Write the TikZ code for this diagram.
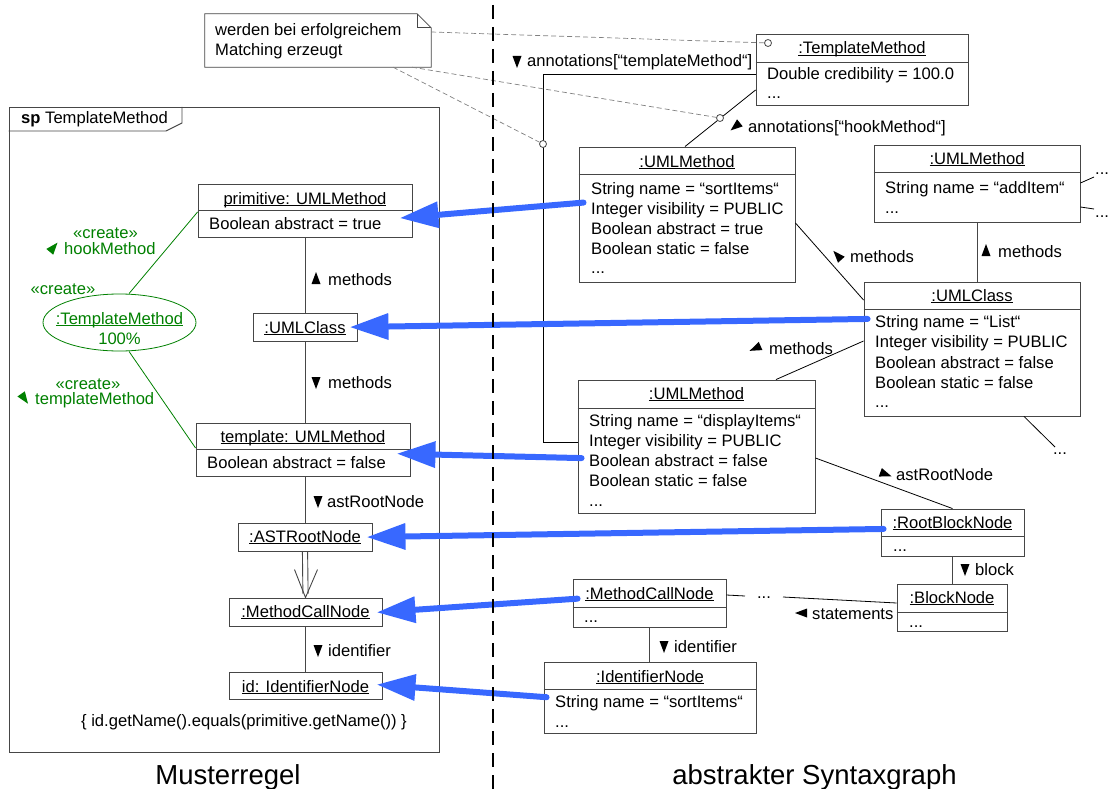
\documentclass[tikz,border=0pt]{standalone}
\usepackage{fontspec}
\setmainfont{Liberation Sans}
\usetikzlibrary{arrows.meta,shapes.geometric}
\definecolor{matchblue}{RGB}{56,104,255}
\definecolor{creategreen}{RGB}{0,128,0}
\definecolor{edge}{RGB}{70,70,70}
\newcommand\nf{\fontsize{16.6}{20}\selectfont}
\newcommand\uln[1]{\setbox0\hbox{#1}\rlap{\rule[-2.3pt]{\wd0}{0.9pt}}\box0}
\tikzset{
  obj/.style={rectangle, draw=edge, line width=0.9pt, fill=white, inner sep=0pt},
  ttl/.style={anchor=base, inner sep=0pt},
  attr/.style={anchor=base west, inner sep=0pt},
  lline/.style={draw=edge, line width=0.9pt},
  rline/.style={draw=black, line width=0.8pt},
  gline/.style={draw=creategreen, line width=0.8pt},
  notelink/.style={draw=gray, line width=0.7pt, dash pattern=on 5pt off 3pt},
  match/.style={draw=matchblue, line width=6pt, line cap=round,
    -{Triangle[length=38pt,width=27pt,line width=0pt]}},
  pinc/.style={circle, draw=edge, fill=white, line width=0.8pt, inner sep=0pt, minimum size=7pt},
  separator/.style={draw=black, line width=2.6pt, dash pattern=on 14pt off 8pt},
  tri/.pic={\fill[pic actions] (-5,-4.5) -- (7,0) -- (-5,4.5) -- cycle;},
}
\begin{document}
\begin{tikzpicture}[x=1pt, y=-1pt, font=\nf]
\useasboundingbox (0,0) rectangle (1110,789);

% ---------- rule frame: sp TemplateMethod ----------
\node[rectangle, draw=edge, line width=0.9pt, inner sep=0pt, minimum width=430pt, minimum height=645pt] (frm) at (224,429.5) {};
\draw[lline] (frm.north west |- 0,131) -- (166,131) -- (182,123) -- (182,107);
\node[attr] (hdr) at (21,124) {\textbf{sp} TemplateMethod};

% ---------- note ----------
\node[inner sep=0pt, minimum width=226pt, minimum height=53pt] (note) at (318,40.5) {};
\draw[draw=edge, fill=white, line width=0.8pt] (note.north west) -- ([xshift=-14pt]note.north east)
  -- ([yshift=-14pt]note.north east) -- (note.south east) -- (note.south west) -- cycle;
\draw[draw=edge, line width=0.8pt] ([xshift=-14pt]note.north east) -- ([xshift=-14pt,yshift=-14pt]note.north east)
  -- ([yshift=-14pt]note.north east);
\node[attr] at (215,36) {werden bei erfolgreichem};
\node[attr] at (215,56) {Matching erzeugt};

% ---------- rule objects (left) ----------
\node[obj, minimum width=214pt, minimum height=53pt] (prim) at (305,210.5) {};
\draw[lline] (prim.west |- 0,210) -- (prim.east |- 0,210);
\node[ttl] at (305,204) {\uln{primitive: UMLMethod}};
\node[attr] at (209,229) {Boolean abstract = true};

\node[obj, minimum width=104pt, minimum height=28pt] (lcls) at (305,327) {};
\node[ttl] at (305,333) {\uln{:UMLClass}};

\node[obj, minimum width=214pt, minimum height=53pt] (tmpl) at (303,449.5) {};
\draw[lline] (tmpl.west |- 0,449) -- (tmpl.east |- 0,449);
\node[ttl] at (303,442) {\uln{template: UMLMethod}};
\node[attr] at (207,468) {Boolean abstract = false};

\node[obj, minimum width=134pt, minimum height=28pt] (ast) at (305,537) {};
\node[ttl] at (305,542) {\uln{:ASTRootNode}};

\node[obj, minimum width=153pt, minimum height=28pt] (lmc) at (305.5,612) {};
\node[ttl] at (305.5,617) {\uln{:MethodCallNode}};

\node[obj, minimum width=153pt, minimum height=27pt] (lid) at (305.5,685.5) {};
\node[ttl] at (305.5,692) {\uln{id: IdentifierNode}};

\node[ttl] (cond) at (244,726) {\{ id.getName().equals(primitive.getName()) \}};

% rule links
\draw[lline] (lcls.north |- prim.south) -- (lcls.north);
\draw[lline] (lcls.south) -- (lcls.south |- tmpl.north);
\draw[lline] (ast.north |- tmpl.south) -- (ast.north);
\draw[lline] ([xshift=-2.6pt]ast.south) -- ([xshift=-2.6pt,yshift=4pt]lmc.north);
\draw[lline] ([xshift=2.6pt]ast.south) -- ([xshift=2.6pt,yshift=4pt]lmc.north);
\draw[lline] ([xshift=-11pt,yshift=28pt]lmc.north) -- (lmc.north) -- ([xshift=12pt,yshift=28pt]lmc.north);
\draw[lline] (lmc.south) -- (lmc.south |- lid.north);

\pic[rotate=90]  at (316,279) {tri};  \node[attr] at (328,285) {methods};
\pic[rotate=-90] at (316,382) {tri};  \node[attr] at (328,388) {methods};
\pic[rotate=-90] at (318,501) {tri};  \node[attr] at (327,507) {astRootNode};
\pic[rotate=-90] at (318,650) {tri};  \node[attr] at (328,656) {identifier};

% created annotation
\node[ellipse, draw=creategreen, line width=0.8pt, inner sep=0pt, minimum width=153pt, minimum height=57pt] (ell) at (119.5,322.5) {};
\node[ttl, text=creategreen] at (119.5,324) {\uln{:TemplateMethod}};
\node[ttl, text=creategreen] at (119.5,344) {100\%};
\draw[gline] (prim.west |- 0,212) -- (ell.north -| 129,0);
\draw[gline] (ell.south -| 129,0) -- (tmpl.west |- 0,448);
\node[ttl, text=creategreen] at (105.5,238) {«create»};
\pic[rotate=50, fill=creategreen] at (53,248) {tri};
\node[attr, text=creategreen] at (64,254) {hookMethod};
\node[ttl, text=creategreen] at (63,294) {«create»};
\node[ttl, text=creategreen] at (88,389) {«create»};
\pic[rotate=-55, fill=creategreen] at (24,398) {tri};
\node[attr, text=creategreen] at (35,404) {templateMethod};

% ---------- syntax graph objects (right) ----------
\node[obj, minimum width=212pt, minimum height=71pt] (tm) at (862,69.5) {};
\draw[lline] (tm.west |- 0,62) -- (tm.east |- 0,62);
\node[ttl] at (862,54) {\uln{:TemplateMethod}};
\node[attr] at (767,80) {Double credibility = 100.0};
\node[attr] at (767,99) {...};

\node[obj, minimum width=216pt, minimum height=135pt] (sort) at (687,214.5) {};
\draw[lline] (sort.west |- 0,174) -- (sort.east |- 0,174);
\node[ttl] at (687,167) {\uln{:UMLMethod}};
\node[attr] at (591,194) {String name = “sortItems“};
\node[attr] at (591,214) {Integer visibility = PUBLIC};
\node[attr] at (591,234) {Boolean abstract = true};
\node[attr] at (591,254) {Boolean static = false};
\node[attr] at (591,273) {...};

\node[obj, minimum width=206pt, minimum height=77pt] (add) at (977,183.5) {};
\draw[lline] (add.west |- 0,172) -- (add.east |- 0,172);
\node[ttl] at (977,164) {\uln{:UMLMethod}};
\node[attr] at (885,193) {String name = “addItem“};
\node[attr] at (885,213) {...};

\node[obj, minimum width=216pt, minimum height=134pt] (cls) at (972,349) {};
\draw[lline] (cls.west |- 0,309) -- (cls.east |- 0,309);
\node[ttl] at (972,301) {\uln{:UMLClass}};
\node[attr] at (875,327) {String name = “List“};
\node[attr] at (875,347) {Integer visibility = PUBLIC};
\node[attr] at (875,368) {Boolean abstract = false};
\node[attr] at (875,388) {Boolean static = false};
\node[attr] at (875,407) {...};

\node[obj, minimum width=237pt, minimum height=133pt] (disp) at (696.5,446.5) {};
\draw[lline] (disp.west |- 0,408) -- (disp.east |- 0,408);
\node[ttl] at (696.5,399) {\uln{:UMLMethod}};
\node[attr] at (589,426) {String name = “displayItems“};
\node[attr] at (589,446) {Integer visibility = PUBLIC};
\node[attr] at (589,466) {Boolean abstract = false};
\node[attr] at (589,486) {Boolean static = false};
\node[attr] at (589,506) {...};

\node[obj, minimum width=143pt, minimum height=47pt] (root) at (952.5,532.5) {};
\draw[lline] (root.west |- 0,536) -- (root.east |- 0,536);
\node[ttl] at (952.5,528) {\uln{:RootBlockNode}};
\node[attr] at (893,551) {...};

\node[obj, minimum width=110pt, minimum height=47pt] (block) at (952,607.5) {};
\draw[lline] (block.west |- 0,612) -- (block.east |- 0,612);
\node[ttl] at (952,603) {\uln{:BlockNode}};
\node[attr] at (909,627) {...};

\node[obj, minimum width=153pt, minimum height=48pt] (mcall) at (649.5,603) {};
\draw[lline] (mcall.west |- 0,607) -- (mcall.east |- 0,607);
\node[ttl] at (649.5,599) {\uln{:MethodCallNode}};
\node[attr] at (584,622) {...};

\node[obj, minimum width=212pt, minimum height=71pt] (ident) at (650,697.5) {};
\draw[lline] (ident.west |- 0,689) -- (ident.east |- 0,689);
\node[ttl] at (650,682) {\uln{:IdentifierNode}};
\node[attr] at (555,707) {String name = “sortItems“};
\node[attr] at (555,727) {...};

% free ends of the graph
\coordinate (addA) at (1094,177);
\coordinate (addB) at (1094,209);
\coordinate (clsD) at (1055,447);
\coordinate (mcA) at (745,596);
\coordinate (mcB) at (783,597);
\node[attr] (dotsA) at (1095,174) {...};
\node[attr] (dotsB) at (1095,217) {...};
\node[ttl] (dotsC) at (1060,454) {...};
\node[ttl] (dotsM) at (764,598) {...};

% graph links
\draw[rline] (tm.west |- 0,74) -- (543,74) -- (543,442) -- (disp.west |- 0,442);
\draw[rline] (tm.west |- 0,90) -- (sort.north -| 685,0);
\draw[rline] (sort.east |- 0,223) -- (cls.west |- 0,300);
\draw[lline] (add.south) -- (add.south |- cls.north);
\draw[rline] (cls.west |- 0,341) -- (disp.north -| 776,0);
\draw[rline] (cls.south -| 1024,0) -- (clsD);
\draw[rline] (disp.east |- 0,458) -- (root.north);
\draw[lline] (root.south) -- (root.south |- block.north);
\draw[rline] (mcall.east |- 0,595) -- (mcA);
\draw[rline] (mcB) -- (block.west |- 0,603);
\draw[lline] (mcall.south) -- (mcall.south |- ident.north);
\draw[rline] (add.east |- 0,183) -- (addA);
\draw[rline] (add.east |- 0,207) -- (addB);

\pic[rotate=-90]  at (517,61) {tri};  \node[attr] at (527,67) {annotations[“templateMethod“]};
\pic[rotate=-141] at (736,126) {tri}; \node[attr] at (748,132) {annotations[“hookMethod“]};
\pic[rotate=132]  at (838,256) {tri}; \node[attr] at (850,262) {methods};
\pic[rotate=90]   at (986,251) {tri}; \node[attr] at (998,257) {methods};
\pic[rotate=-156] at (756,348) {tri}; \node[attr] at (769,354) {methods};
\pic[rotate=-20]  at (885,474) {tri}; \node[attr] at (896,480) {astRootNode};
\pic[rotate=-90]  at (965,569) {tri}; \node[attr] at (975,575) {block};
\pic[rotate=180]  at (802,613) {tri}; \node[attr] at (812,619) {statements};
\pic[rotate=-90]  at (664,646) {tri}; \node[attr] at (674,652) {identifier};

% note links with anchor circles
\node[pinc] (c1) at (768,43) {};
\node[pinc] (c2) at (720,118) {};
\node[pinc] (c3) at (543,144) {};
\draw[notelink] (note.east |- 0,32) -- (c1);
\draw[notelink] (note.south -| 412,0) -- (c2);
\draw[notelink] (note.south -| 393,0) -- (c3);

% matching arrows
\draw[match, shorten <=-5pt, shorten >=-12pt] (sort.west |- 0,203) -- (prim.east |- 0,217);
\draw[match, shorten <=-4pt, shorten >=-7pt] (cls.west |- 0,319) -- (lcls.east |- 0,327);
\draw[match, shorten <=-4pt, shorten >=-13pt] (disp.west |- 0,458) -- (tmpl.east |- 0,454);
\draw[match, shorten <=-3pt, shorten >=-5pt] (root.west |- 0,529) -- (ast.east |- 0,537);
\draw[match, shorten <=-5pt, shorten >=-5pt] (mcall.west |- 0,599) -- (lmc.east |- 0,612);
\draw[match, shorten <=-3pt, shorten >=-5pt] (ident.west |- 0,697) -- (lid.east |- 0,685);

% separator between rule and syntax graph
\coordinate (sepT) at (493,5);
\coordinate (sepB) at (493,789);
\draw[separator] (sepT) -- (sepB);

% captions
\node[ttl, font=\fontsize{27.5}{33}\selectfont] (capL) at (228,784) {Musterregel};
\node[ttl, font=\fontsize{27.5}{33}\selectfont] (capR) at (814.5,784) {abstrakter Syntaxgraph};
\end{tikzpicture}
\end{document}
